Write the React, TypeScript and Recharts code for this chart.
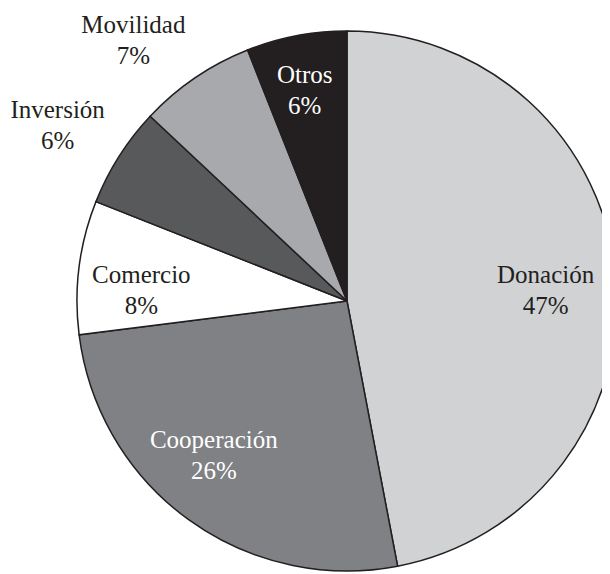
import { PieChart, Pie, Cell } from "recharts";

const categories = ["Donación", "Cooperación", "Comercio", "Inversión", "Movilidad", "Otros"];
const shares = [47, 26, 8, 6, 7, 6];

const fills = ["#d1d2d4", "#808184", "#ffffff", "#58595b", "#a7a9ac", "#231f20"];
const textColors = ["#231f20", "#ffffff", "#231f20", "#231f20", "#231f20", "#ffffff"];
// label placement: distance from the centre (px) and a small angle shift (deg, clockwise)
const labelRadius = [199, 203, 206, 339, 338, 216];
const labelShift = [2, 5, -4, -1, -5, -0.5];

const data = categories.map((name, i) => ({ name, value: shares[i] }));

const RAD = Math.PI / 180;

// eslint-disable-next-line @typescript-eslint/no-explicit-any
function renderLabel(props: any) {
  const { cx, cy, midAngle, index, name, value } = props;
  const r = labelRadius[index];
  const a = (midAngle - labelShift[index]) * RAD;
  const x = cx + r * Math.cos(-a);
  const y = cy + r * Math.sin(-a);
  return (
    <text
      key={`lbl-${index}`}
      x={x}
      y={y}
      textAnchor="middle"
      dominantBaseline="central"
      fill={textColors[index]}
      fontFamily="'Liberation Serif', serif"
      fontSize={25}
    >
      <tspan x={x} y={y - 15.5}>{name}</tspan>
      <tspan x={x} y={y + 15.5}>{`${value}%`}</tspan>
    </text>
  );
}

export default function App() {
  return (
    <div style={{ width: 602, height: 566 }}>
      <PieChart width={602} height={566} margin={{ top: 0, right: 0, bottom: 0, left: 0 }}>
        <Pie
          data={data}
          dataKey="value"
          nameKey="name"
          cx={339}
          cy={293}
          outerRadius={270}
          startAngle={90}
          endAngle={-270}
          label={renderLabel}
          labelLine={false}
          isAnimationActive={false}
        >
          {data.map((d, i) => (
            <Cell key={d.name} fill={fills[i]} stroke="#231f20" strokeWidth={1.5} />
          ))}
        </Pie>
      </PieChart>
    </div>
  );
}
